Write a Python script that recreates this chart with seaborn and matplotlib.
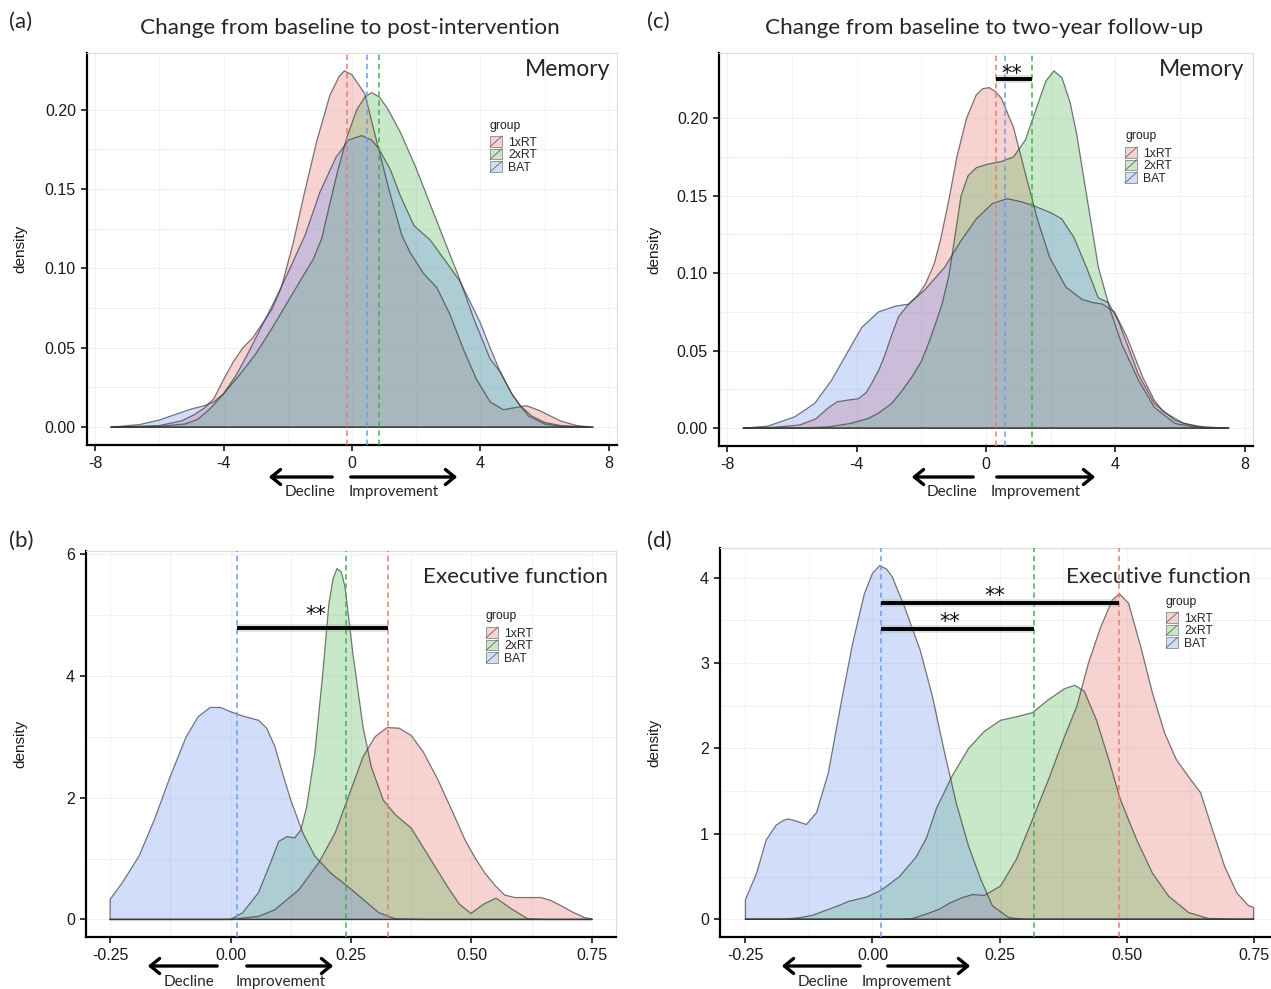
import numpy as np
import pandas as pd
import matplotlib
matplotlib.use("Agg")
import matplotlib.pyplot as plt
import seaborn as sns
from matplotlib.patches import Rectangle, Patch, FancyArrowPatch
from matplotlib.lines import Line2D
from matplotlib.legend_handler import HandlerBase

W, H = 1271, 989

groups = ["1xRT", "2xRT", "BAT"]
fill_colors = ["#E36C66", "#4DB54F", "#6A8FF0"]
line_colors = ["#EC7A72", "#3DB54A", "#6C9BF0"]

# --- (a) memory, baseline -> post-intervention ---
a_x_1xRT = [-7.5, -6.0, -5.3, -4.9, -4.6, -4.3, -4.0, -3.7, -3.4, -3.1, -2.8, -2.5, -2.2, -1.83, -1.5, -1.1,
            -0.69, -0.4, -0.24, 0.0, 0.4, 0.82, 1.2, 1.55, 1.81, 2.22, 2.64, 3.05, 3.47, 3.88, 4.3, 4.71,
            5.13, 5.44, 5.86, 6.48, 7.0, 7.5]
a_y_1xRT = [0, 0.001, 0.004, 0.008, 0.012, 0.018, 0.030, 0.041, 0.050, 0.056, 0.065, 0.074, 0.088, 0.116,
            0.146, 0.180, 0.209, 0.221, 0.2245, 0.222, 0.210, 0.176, 0.146, 0.121, 0.110, 0.097, 0.088,
            0.071, 0.049, 0.030, 0.016, 0.011, 0.0125, 0.0135, 0.0103, 0.004, 0.001, 0]
a_x_2xRT = [-7.5, -6.0, -5.2, -4.8, -4.4, -4.0, -3.5, -3.0, -2.5, -2.0, -1.5, -1.2, -0.94, -0.7, -0.45,
            -0.17, 0.15, 0.4, 0.61, 0.85, 1.1, 1.5, 2.0, 2.5, 2.85, 3.3, 3.8, 4.3, 4.61, 5.0, 5.5, 6.0,
            6.5, 7.5]
a_y_2xRT = [0, 0.0005, 0.002, 0.005, 0.012, 0.021, 0.033, 0.046, 0.062, 0.079, 0.096, 0.106, 0.119,
            0.140, 0.161, 0.182, 0.200, 0.208, 0.2108, 0.208, 0.201, 0.186, 0.163, 0.137, 0.119, 0.096,
            0.068, 0.043, 0.035, 0.020, 0.007, 0.002, 0.0005, 0]
a_x_BAT = [-7.5, -6.6, -6.0, -5.5, -5.0, -4.6, -4.3, -4.0, -3.6, -3.2, -2.8, -2.4, -2.0, -1.46, -1.0,
           -0.5, -0.1, 0.3, 0.6, 0.82, 1.2, 1.5, 1.93, 2.43, 2.9, 3.36, 3.7, 3.99, 4.3, 4.61, 4.95, 5.23,
           5.6, 6.0, 6.5, 7.5]
a_y_BAT = [0, 0.0017, 0.0045, 0.008, 0.0115, 0.0135, 0.016, 0.021, 0.033, 0.048, 0.064, 0.080, 0.097,
           0.121, 0.148, 0.170, 0.181, 0.1837, 0.181, 0.176, 0.162, 0.146, 0.127, 0.118, 0.105, 0.092,
           0.078, 0.066, 0.050, 0.035, 0.022, 0.0135, 0.007, 0.003, 0.001, 0]
a_means = [-0.16, 0.83, 0.47]

# --- (c) memory, baseline -> two-year follow-up ---
c_x_1xRT = [-7.5, -6.6, -5.76, -5.26, -4.88, -4.6, -4.3, -3.94, -3.7, -3.53, -3.3, -3.11, -2.9, -2.7,
            -2.39, -2.1, -1.87, -1.6, -1.4, -1.15, -0.9, -0.6, -0.3, -0.1, 0.1, 0.3, 0.47, 0.85, 1.22,
            1.6, 1.97, 2.47, 2.97, 3.3, 3.6, 3.97, 4.35, 4.84, 5.2, 5.46, 6.1, 6.8, 7.5]
c_y_1xRT = [0, 0.0005, 0.002, 0.006, 0.013, 0.017, 0.018, 0.019, 0.023, 0.029, 0.038, 0.048, 0.061,
            0.072, 0.080, 0.086, 0.093, 0.106, 0.122, 0.147, 0.175, 0.200, 0.215, 0.219, 0.2197, 0.217,
            0.213, 0.194, 0.164, 0.134, 0.110, 0.091, 0.083, 0.081, 0.080, 0.075, 0.059, 0.033, 0.018,
            0.011, 0.003, 0.0005, 0]
c_x_2xRT = [-7.5, -5.5, -4.88, -4.2, -3.63, -3.3, -2.91, -2.6, -2.29, -2.0, -1.77, -1.55, -1.36, -1.15,
            -0.95, -0.77, -0.55, -0.3, 0.0, 0.47, 0.85, 1.22, 1.6, 1.85, 2.1, 2.35, 2.6, 2.8, 2.97, 3.22,
            3.47, 3.84, 4.2, 4.71, 5.2, 5.84, 6.5, 7.5]
c_y_2xRT = [0, 0.0003, 0.0008, 0.003, 0.0063, 0.010, 0.016, 0.024, 0.033, 0.043, 0.055, 0.068, 0.080,
            0.098, 0.125, 0.150, 0.163, 0.168, 0.170, 0.172, 0.175, 0.186, 0.209, 0.224, 0.2305, 0.226,
            0.210, 0.190, 0.168, 0.136, 0.104, 0.076, 0.054, 0.031, 0.0135, 0.003, 0.0005, 0]
c_x_BAT = [-7.5, -6.74, -5.91, -5.29, -4.77, -4.25, -3.84, -3.32, -2.8, -2.39, -1.9, -1.27, -0.77, -0.3,
           0.2, 0.66, 1.1, 1.47, 2.0, 2.34, 2.72, 3.1, 3.47, 3.78, 4.09, 4.4, 4.7, 5.2, 5.84, 6.5, 7.5]
c_y_BAT = [0, 0.0013, 0.0073, 0.016, 0.031, 0.050, 0.065, 0.075, 0.0787, 0.080, 0.089, 0.104, 0.121,
           0.135, 0.145, 0.148, 0.146, 0.1435, 0.139, 0.135, 0.123, 0.104, 0.084, 0.081, 0.069, 0.052,
           0.035, 0.016, 0.005, 0.001, 0]
c_means = [0.31, 1.41, 0.60]

# --- (b) executive function, baseline -> post-intervention ---
b_x_1xRT = [-0.25, 0.0, 0.058, 0.092, 0.142, 0.183, 0.217, 0.25, 0.275, 0.3, 0.325, 0.35, 0.375, 0.4,
            0.43, 0.46, 0.487, 0.51, 0.528, 0.55, 0.569, 0.59, 0.62, 0.644, 0.665, 0.685, 0.71, 0.735, 0.75]
b_y_1xRT = [0, 0, 0.05, 0.16, 0.49, 0.93, 1.42, 2.13, 2.67, 3.0, 3.15, 3.14, 3.02, 2.75, 2.3, 1.78,
            1.30, 0.98, 0.76, 0.55, 0.40, 0.36, 0.36, 0.36, 0.31, 0.23, 0.12, 0.03, 0.01]
b_x_2xRT = [-0.25, 0.0, 0.025, 0.058, 0.083, 0.1, 0.117, 0.133, 0.146, 0.158, 0.175, 0.192, 0.204, 0.213,
            0.221, 0.23, 0.2375, 0.254, 0.275, 0.292, 0.317, 0.342, 0.36, 0.375, 0.404, 0.451, 0.475,
            0.499, 0.525, 0.551, 0.582, 0.617, 0.65, 0.75]
b_y_2xRT = [0, 0, 0.11, 0.44, 0.93, 1.28, 1.36, 1.34, 1.47, 1.85, 2.73, 4.09, 5.18, 5.6, 5.76, 5.7,
            5.46, 4.36, 3.16, 2.51, 1.96, 1.72, 1.6, 1.50, 1.13, 0.53, 0.25, 0.10, 0.25, 0.35, 0.18,
            0.01, 0, 0]
b_x_BAT = [-0.25, -0.225, -0.19, -0.158, -0.125, -0.092, -0.067, -0.042, -0.021, 0.0, 0.025, 0.058,
           0.075, 0.092, 0.108, 0.125, 0.15, 0.175, 0.208, 0.242, 0.275, 0.308, 0.342, 0.4, 0.75]
b_y_BAT = [0.33, 0.6, 1.04, 1.64, 2.35, 3.0, 3.33, 3.48, 3.48, 3.41, 3.34, 3.27, 3.14, 2.84, 2.4, 1.96,
           1.42, 1.04, 0.76, 0.55, 0.33, 0.11, 0.01, 0, 0]
b_means = [0.326, 0.239, 0.0125]

# --- (d) executive function, baseline -> two-year follow-up ---
d_x_1xRT = [-0.25, 0.06, 0.079, 0.11, 0.132, 0.152, 0.175, 0.197, 0.22, 0.252, 0.283, 0.315, 0.346,
            0.378, 0.402, 0.425, 0.449, 0.472, 0.486, 0.504, 0.528, 0.551, 0.575, 0.598, 0.622, 0.646,
            0.669, 0.693, 0.717, 0.74, 0.75]
d_y_1xRT = [0, 0, 0.01, 0.07, 0.12, 0.19, 0.25, 0.29, 0.28, 0.39, 0.70, 1.17, 1.63, 2.14, 2.49, 3.0,
            3.42, 3.74, 3.81, 3.70, 3.19, 2.65, 2.18, 1.87, 1.67, 1.48, 1.05, 0.62, 0.31, 0.16, 0.14]
d_x_2xRT = [-0.25, -0.177, -0.142, -0.118, -0.094, -0.065, -0.047, -0.012, 0.017, 0.053, 0.086, 0.106,
            0.126, 0.157, 0.189, 0.22, 0.252, 0.283, 0.315, 0.346, 0.378, 0.398, 0.417, 0.441, 0.465,
            0.488, 0.52, 0.551, 0.583, 0.622, 0.661, 0.7, 0.75]
d_y_2xRT = [0, 0, 0.02, 0.047, 0.10, 0.164, 0.21, 0.26, 0.34, 0.50, 0.73, 0.95, 1.3, 1.68, 2.0, 2.2,
            2.33, 2.37, 2.42, 2.57, 2.70, 2.74, 2.67, 2.33, 1.87, 1.4, 0.93, 0.54, 0.27, 0.08, 0.01, 0, 0]
d_x_BAT = [-0.25, -0.228, -0.209, -0.19, -0.175, -0.165, -0.15, -0.13, -0.11, -0.087, -0.063, -0.039,
           -0.016, 0.0, 0.014, 0.028, 0.039, 0.063, 0.094, 0.118, 0.142, 0.165, 0.189, 0.213, 0.236,
           0.268, 0.3, 0.75]
d_y_BAT = [0.23, 0.54, 0.93, 1.1, 1.16, 1.175, 1.15, 1.11, 1.25, 1.71, 2.49, 3.23, 3.81, 4.05, 4.14,
           4.1, 4.01, 3.66, 3.15, 2.61, 1.95, 1.36, 0.86, 0.47, 0.16, 0.02, 0, 0]
d_means = [0.486, 0.317, 0.016]

# significance bars: (from, to, height, star x, star y)
b_sig = [(0.0125, 0.326, 4.79, 0.177, 5.0)]
c_sig = [(0.31, 1.41, 0.225, 0.80, 0.2285)]
d_sig = [(0.016, 0.486, 3.70, 0.241, 3.79), (0.016, 0.317, 3.40, 0.152, 3.485)]

mem_xticks = [-8, -4, 0, 4, 8]
mem_xlabels = ["-8", "-4", "0", "4", "8"]
mem_yticks = [0.0, 0.05, 0.10, 0.15, 0.20]
mem_ylabels = ["0.00", "0.05", "0.10", "0.15", "0.20"]
ef_xticks = [-0.25, 0.0, 0.25, 0.5, 0.75]
ef_xlabels = ["-0.25", "0.00", "0.25", "0.50", "0.75"]
b_yticks = [0, 2, 4, 6]
d_yticks = [0, 1, 2, 3, 4]

sns.set_theme(style="white")
plt.rcParams["font.family"] = ["Liberation Sans", "DejaVu Sans"]
CAL = ["Lato", "DejaVu Sans"]

fig = plt.figure(figsize=(W / 100, H / 100), dpi=100)


class KeyHandler(HandlerBase):
    def create_artists(self, legend, orig_handle, xdescent, ydescent, width, height, fontsize, trans):
        r = Rectangle((-xdescent, -ydescent), width, height, facecolor=orig_handle.get_facecolor(),
                      edgecolor="#8a8a8a", lw=0.6, transform=trans)
        d = Line2D([-xdescent, -xdescent + width], [-ydescent, -ydescent + height],
                   color="#666666", lw=0.6, transform=trans)
        return [r, d]


def ftext(x, y, s, **kw):
    fig.text(x / W, 1 - y / H, s, **kw)


def panel(rect, xs_list, ys_list, means, xticks, xlabels, yticks, ylabels, sig, leg_x, leg_title_y,
          leg_top, ylab_x):
    l, t, r, b = rect
    ax = fig.add_axes([l / W, 1 - b / H, (r - l) / W, (b - t) / H])
    rows = []
    for g, c, xs, ys in zip(groups, fill_colors, xs_list, ys_list):
        px = [xs[0]] + list(xs) + [xs[-1], xs[0]]
        py = [0] + list(ys) + [0, 0]
        ax.fill(px, py, color=c, alpha=0.3, lw=0, zorder=2)
        rows.append(pd.DataFrame({"x": px, "density": py, "group": g}))
    df = pd.concat(rows, ignore_index=True)
    sns.lineplot(data=df, x="x", y="density", units="group", estimator=None, sort=False,
                 color="#333333", alpha=0.65, lw=0.9, ax=ax, legend=False, zorder=3)
    for m, c in zip(means, line_colors):
        ax.axvline(m, color=c, ls=(0, (3.5, 2.5)), lw=1.1, zorder=4)
    for x0, x1, yb, sx, sy in sig:
        ax.plot([x0, x1], [yb, yb], color="#999999", lw=5.5, alpha=0.3, zorder=5,
                solid_capstyle="butt")
        ax.plot([x0, x1], [yb, yb], color="black", lw=2.8, zorder=6, solid_capstyle="butt")
        ax.text(sx, sy, "**", ha="center", va="center", fontsize=15, family="DejaVu Sans",
                color="#111111", zorder=7)

    allx = np.concatenate([np.asarray(v, float) for v in xs_list])
    ally = np.concatenate([np.asarray(v, float) for v in ys_list])
    xr = allx.max() - allx.min()
    ax.set_xlim(allx.min() - 0.05 * xr, allx.max() + 0.05 * xr)
    ax.set_ylim(-0.05 * ally.max(), ally.max() * 1.05)

    ax.set_xticks(xticks)
    ax.set_xticklabels(xlabels)
    ax.set_yticks(yticks)
    ax.set_yticklabels(ylabels)
    ax.set_xticks([(a + b_) / 2 for a, b_ in zip(xticks[:-1], xticks[1:])], minor=True)
    ax.set_yticks([(a + b_) / 2 for a, b_ in zip(yticks[:-1], yticks[1:])], minor=True)
    ax.grid(True, which="both", color="#f1f1f1", lw=0.8)
    ax.set_axisbelow(True)
    ax.tick_params(which="major", direction="out", length=4, width=1.1, color="black",
                   labelsize=11.5, labelcolor="#1a1a1a", pad=4, bottom=True, left=True)
    ax.tick_params(which="minor", length=0)
    for s in ["top", "right"]:
        ax.spines[s].set_color("#dcdcdc")
        ax.spines[s].set_linewidth(0.8)
    for s in ["left", "bottom"]:
        ax.spines[s].set_color("black")
        ax.spines[s].set_linewidth(1.6)
    ax.set_xlabel("")
    ax.set_ylabel("density", fontsize=11, color="#1a1a1a")
    ax.yaxis.set_label_coords(ylab_x, 0.5)

    ftext(leg_x, leg_title_y, "group", fontsize=8.7, color="#222222", va="center", ha="left")
    handles = [Patch(facecolor=c, alpha=0.3) for c in fill_colors]
    ax.legend(handles, groups, loc="upper left",
              bbox_to_anchor=(leg_x / W, 1 - leg_top / H), bbox_transform=fig.transFigure,
              frameon=False, fontsize=8.7, handlelength=1.0, handleheight=1.0,
              handletextpad=0.5, labelspacing=0.0, borderpad=0, borderaxespad=0,
              handler_map={Patch: KeyHandler()})
    return ax


panel((87, 53, 617, 445), [a_x_1xRT, a_x_2xRT, a_x_BAT], [a_y_1xRT, a_y_2xRT, a_y_BAT], a_means,
      mem_xticks, mem_xlabels, mem_yticks, mem_ylabels, [], 490, 126, 136, -0.113)
panel((719, 53, 1253, 446), [c_x_1xRT, c_x_2xRT, c_x_BAT], [c_y_1xRT, c_y_2xRT, c_y_BAT], c_means,
      mem_xticks, mem_xlabels, mem_yticks, mem_ylabels, c_sig, 1125, 136, 147, -0.107)
panel((86, 551, 616, 937), [b_x_1xRT, b_x_2xRT, b_x_BAT], [b_y_1xRT, b_y_2xRT, b_y_BAT], b_means,
      ef_xticks, ef_xlabels, b_yticks, [str(v) for v in b_yticks], b_sig, 486, 616, 627, -0.111)
panel((720, 548, 1279, 937), [d_x_1xRT, d_x_2xRT, d_x_BAT], [d_y_1xRT, d_y_2xRT, d_y_BAT], d_means,
      ef_xticks, ef_xlabels, d_yticks, [str(v) for v in d_yticks], d_sig, 1166, 602, 612, -0.104)

# titles and panel letters
ftext(9, 22, "(a)", fontsize=16, family=CAL, va="center")
ftext(647, 22, "(c)", fontsize=16, family=CAL, va="center")
ftext(9, 541, "(b)", fontsize=16, family=CAL, va="center")
ftext(647, 541, "(d)", fontsize=16, family=CAL, va="center")
ftext(350, 28, "Change from baseline to post-intervention", fontsize=16.2, family=CAL, ha="center", va="center")
ftext(984, 28, "Change from baseline to two-year follow-up", fontsize=16.2, family=CAL, ha="center", va="center")
ftext(610, 69, "Memory", fontsize=16.5, family=CAL, ha="right", va="center")
ftext(1244, 70, "Memory", fontsize=16.5, family=CAL, ha="right", va="center")
ftext(608, 577, "Executive function", fontsize=16.2, family=CAL, ha="right", va="center")
ftext(1251, 577, "Executive function", fontsize=16.2, family=CAL, ha="right", va="center")


def farrow(x0, x1, y):
    fig.add_artist(FancyArrowPatch((x0 / W, 1 - y / H), (x1 / W, 1 - y / H), transform=fig.transFigure,
                                   arrowstyle="->,head_length=0.55,head_width=0.45", mutation_scale=12,
                                   lw=2.4, color="black"))


# decline / improvement arrows
for (lt, lh, rt, rh, ya, xd, xi, yt) in [(335, 266, 348, 460, 477, 310, 394, 492),
                                         (976, 909, 994, 1098, 477, 952, 1036, 492),
                                         (220, 145, 244, 336, 966, 189, 281, 982),
                                         (863, 779, 885, 973, 966, 823, 907, 982)]:
    farrow(lt, lh, ya)
    farrow(rt, rh, ya)
    ftext(xd, yt, "Decline", fontsize=11, family=CAL, ha="center", va="center")
    ftext(xi, yt, "Improvement", fontsize=11, family=CAL, ha="center", va="center")

fig.savefig("out.png", dpi=100)
